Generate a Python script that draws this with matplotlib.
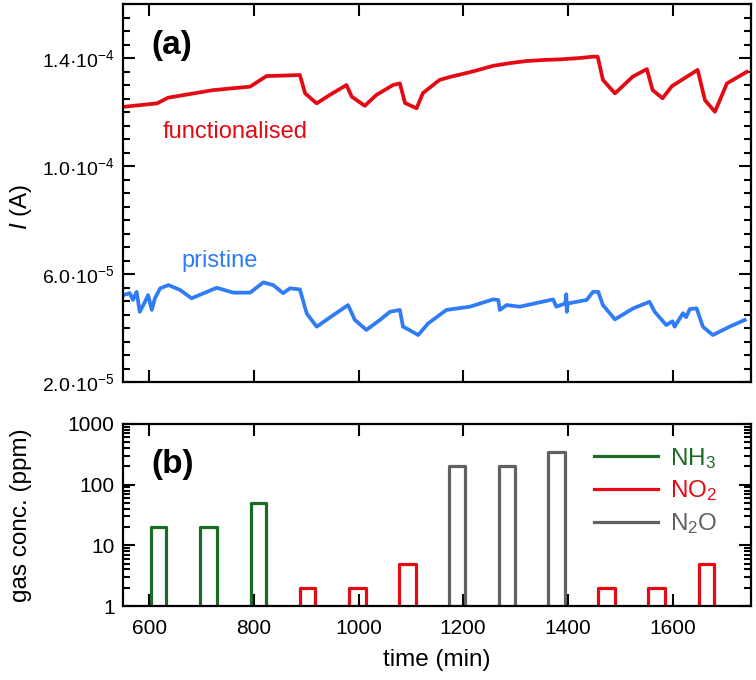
import matplotlib
matplotlib.use("Agg")
import matplotlib.pyplot as plt
import matplotlib.ticker as mticker
import numpy as np

plt.rcParams['font.family'] = ['Liberation Sans', 'DejaVu Sans']
plt.rcParams['mathtext.fontset'] = 'custom'
plt.rcParams['mathtext.rm'] = 'Liberation Sans'
plt.rcParams['mathtext.it'] = 'Liberation Sans:italic'
plt.rcParams['mathtext.bf'] = 'Liberation Sans:bold'

# current of the functionalised sensor (time in min, current in 1e-5 A)
t_func = [550, 615, 636, 722, 793, 824, 888, 898, 920, 945, 977, 987, 1012, 1034,
          1066, 1079, 1089, 1111, 1123, 1155, 1175, 1199, 1222, 1257, 1289, 1322,
          1356, 1385, 1423, 1448, 1457, 1467, 1490, 1524, 1551, 1562, 1581, 1599,
          1648, 1662, 1681, 1704, 1742]
i_func = [12.19, 12.32, 12.53, 12.81, 12.94, 13.33, 13.37, 12.69, 12.32, 12.63, 13.0,
          12.57, 12.23, 12.63, 13.0, 13.06, 12.33, 12.14, 12.70, 13.19, 13.30, 13.41,
          13.52, 13.71, 13.81, 13.89, 13.93, 13.95, 14.00, 14.05, 14.05, 13.19, 12.69,
          13.31, 13.59, 12.81, 12.51, 12.96, 13.56, 12.44, 12.01, 13.06, 13.49]

# current of the pristine sensor
t_pris = [551, 563, 569, 576, 582, 592, 598, 605, 611, 621, 637, 659, 681, 729, 761,
          793, 818, 837, 856, 869, 888, 901, 920, 952, 980, 993, 1015, 1041, 1060,
          1079, 1085, 1095, 1114, 1133, 1168, 1213, 1257, 1267, 1270, 1283, 1308,
          1372, 1378, 1395, 1397, 1398, 1400, 1436, 1448, 1458, 1467, 1490, 1525,
          1556, 1566, 1588, 1600, 1604, 1614, 1620, 1626, 1633, 1646, 1658, 1677,
          1709, 1738]
i_pris = [5.22, 5.29, 5.04, 5.34, 4.60, 4.97, 5.22, 4.67, 5.10, 5.47, 5.59, 5.41,
          5.10, 5.49, 5.31, 5.31, 5.69, 5.59, 5.29, 5.47, 5.43, 4.54, 4.05, 4.48,
          4.85, 4.30, 3.93, 4.30, 4.60, 4.67, 4.05, 3.95, 3.74, 4.17, 4.67, 4.79,
          5.06, 5.04, 4.67, 4.85, 4.79, 5.06, 4.79, 4.91, 5.25, 4.60, 4.91, 5.04,
          5.34, 5.34, 4.85, 4.32, 4.73, 4.97, 4.60, 4.11, 4.25, 4.05, 4.36, 4.55,
          4.40, 4.70, 4.73, 4.05, 3.74, 4.05, 4.30]

# gas pulses: start, end (min), concentration (ppm)
nh3_start = [603, 698, 794]
nh3_end = [632, 729, 823]
nh3_conc = [20, 20, 50]

no2_start = [888, 982, 1078, 1458, 1553, 1650]
no2_end = [917, 1015, 1109, 1490, 1585, 1679]
no2_conc = [2, 2, 5, 2, 2, 5]

n2o_start = [1173, 1268, 1362]
n2o_end = [1204, 1299, 1394]
n2o_conc = [200, 200, 350]

red = '#e50914'
blue = '#2f7cf6'
green = '#1b6b24'
gray = '#616161'

fig = plt.figure(figsize=(7.56, 6.8), dpi=100)
ax1 = fig.add_axes([0.1627, 0.4382, 0.8307, 0.5559])
ax2 = fig.add_axes([0.1627, 0.1088, 0.8307, 0.2677])

# (a) currents
ax1.plot(t_func, np.array(i_func) * 1e-5, color=red, lw=2.7)
ax1.plot(t_pris, np.array(i_pris) * 1e-5, color=blue, lw=2.7)
ax1.set_xlim(550, 1750)
ax1.set_ylim(2e-5, 1.6e-4)
ax1.set_yticks([2e-5, 6e-5, 1e-4, 1.4e-4],
               labels=['2.0·10$^{-5}$', '6.0·10$^{-5}$', '1.0·10$^{-4}$', '1.4·10$^{-4}$'])
ax1.set_yticks(np.arange(2e-5, 1.6e-4 + 1e-7, 5e-6), minor=True)
ax1.set_xticks([600, 800, 1000, 1200, 1400, 1600])
ax1.tick_params(labelbottom=False)
ax1.set_ylabel('$I$ (A)', fontsize=17.5)
ax1.yaxis.set_label_coords(-0.142, 0.463)
ax1.text(0.045, 0.889, '(a)', transform=ax1.transAxes, fontsize=24, fontweight='bold',
         va='center', ha='left')
ax1.text(626, 1.105e-4, 'functionalised', color=red, fontsize=17, va='baseline', ha='left')
ax1.text(662, 6.27e-5, 'pristine', color=blue, fontsize=17, va='baseline', ha='left')

# (b) gas pulses
def pulses(ax, starts, ends, conc, color, label):
    for k, (s, e, c) in enumerate(zip(starts, ends, conc)):
        ax.plot([s, s, e, e], [1, c, c, 1], color=color, lw=2.3,
                label=label if k == 0 else None)

pulses(ax2, nh3_start, nh3_end, nh3_conc, green, 'NH$_3$')
pulses(ax2, no2_start, no2_end, no2_conc, red, 'NO$_2$')
pulses(ax2, n2o_start, n2o_end, n2o_conc, gray, 'N$_2$O')
ax2.set_yscale('log')
ax2.set_xlim(550, 1750)
ax2.set_ylim(1, 1000)
ax2.yaxis.set_major_locator(mticker.FixedLocator([1, 10, 100, 1000]))
ax2.yaxis.set_major_formatter(mticker.FixedFormatter(['1', '10', '100', '1000']))
minor_log = [m * d for d in (1, 10, 100) for m in range(2, 10)]
ax2.yaxis.set_minor_locator(mticker.FixedLocator(minor_log))
ax2.yaxis.set_minor_formatter(mticker.NullFormatter())
ax2.set_xticks([600, 800, 1000, 1200, 1400, 1600])
ax2.set_xlabel('time (min)', fontsize=17.5, labelpad=8)
ax2.set_ylabel('gas conc. (ppm)', fontsize=17.5)
ax2.yaxis.set_label_coords(-0.145, 0.5)
ax2.text(0.045, 0.775, '(b)', transform=ax2.transAxes, fontsize=24, fontweight='bold',
         va='center', ha='left')
ax2.legend(loc='upper right', bbox_to_anchor=(0.981, 1.0), frameon=False, fontsize=17.5,
           handlelength=2.6, handletextpad=0.5, labelspacing=0.32, labelcolor='linecolor')

for ax in (ax1, ax2):
    for sp in ax.spines.values():
        sp.set_linewidth(1.6)
    ax.tick_params(which='both', direction='in', top=True, right=True, width=1.5,
                   labelsize=15)
    ax.tick_params(which='major', length=8.5, pad=6)
    ax.tick_params(which='minor', length=5)
    ax.tick_params(axis='x', which='minor', bottom=False, top=False)
ax1.tick_params(axis='y', which='major', labelsize=14)
ax2.tick_params(axis='x', which='major', pad=9.5)

plt.savefig('out.png', dpi=100)
